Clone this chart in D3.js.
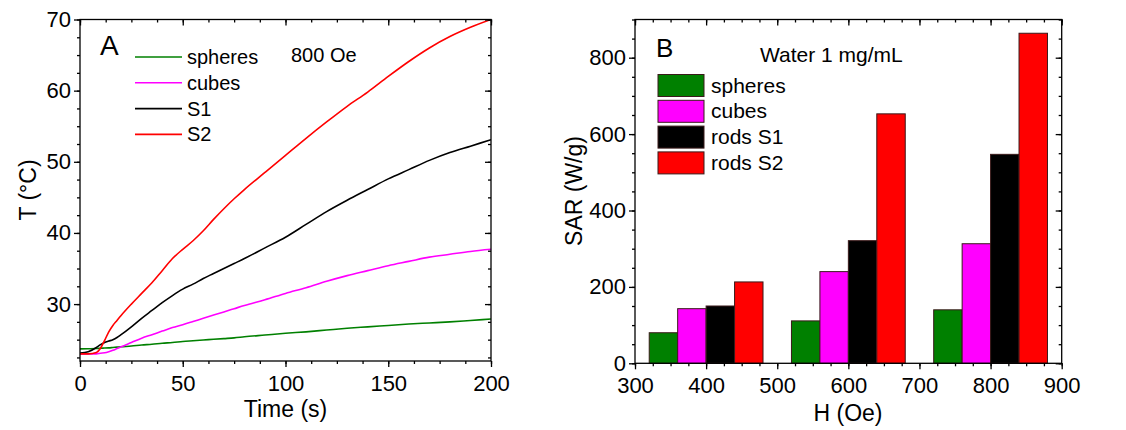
<!DOCTYPE html>
<html>
<head>
<meta charset="utf-8">
<script src="https://cdn.jsdelivr.net/npm/d3@7"></script>
<style>
  html, body { margin: 0; padding: 0; background: #fff; }
  svg { display: block; font-family: "Liberation Sans", Arial, sans-serif; }
</style>
</head>
<body>
<svg id="chart" width="1126" height="430"></svg>
<script>
// heating curves at 800 Oe (panel A)
const timeS = [0, 4, 8, 10, 12, 14, 16, 18, 20, 25, 30, 35, 40, 45, 50, 55, 60, 65, 70, 75, 80,
               90, 100, 110, 120, 130, 140, 150, 160, 170, 180, 190, 200];
const tempSpheres = [23.7, 23.72, 23.75, 23.8, 23.82, 23.85, 23.9, 23.95, 24.0, 24.1, 24.25, 24.35, 24.5,
                     24.6, 24.75, 24.85, 24.95, 25.05, 25.15, 25.25, 25.4, 25.65, 25.9, 26.1, 26.35, 26.6,
                     26.8, 27.0, 27.2, 27.35, 27.5, 27.7, 27.9];
const tempCubes = [23.0, 23.0, 23.0, 23.1, 23.15, 23.3, 23.5, 23.75, 24.0, 24.6, 25.2, 25.7, 26.2, 26.7,
                   27.1, 27.55, 28.0, 28.45, 28.9, 29.35, 29.8, 30.6, 31.5, 32.3, 33.2, 34.0, 34.7, 35.4,
                   36.0, 36.6, 37.0, 37.4, 37.7];
const tempS1 = [23.1, 23.3, 23.9, 24.3, 24.6, 24.8, 25.0, 25.3, 25.7, 26.8, 28.0, 29.1, 30.2, 31.2, 32.1,
                32.8, 33.6, 34.3, 35.0, 35.7, 36.4, 37.9, 39.4, 41.2, 43.0, 44.6, 46.1, 47.6, 48.9, 50.2,
                51.3, 52.2, 53.1];
const tempS2 = [23.0, 23.0, 23.2, 23.8, 24.9, 26.1, 27.0, 27.7, 28.4, 30.0, 31.5, 33.0, 34.7, 36.4, 37.7,
                38.9, 40.3, 41.9, 43.4, 44.8, 46.1, 48.5, 50.9, 53.3, 55.6, 57.8, 59.8, 62.0, 64.1, 66.0,
                67.6, 68.9, 70.0];

// SAR vs field (panel B)
const fieldOe = [400, 600, 800];
const sampleNames = ['spheres', 'cubes', 'rods S1', 'rods S2'];
const sarSpheres = [80, 111, 140];
const sarCubes = [143, 240, 313];
const sarS1 = [150, 321, 547];
const sarS2 = [213, 653, 864];

const colors = ['#008000', '#ff00ff', '#000000', '#ff0000'];
const curveNames = ['spheres', 'cubes', 'S1', 'S2'];

const svg = d3.select('#chart');
svg.append('rect').attr('width', 1126).attr('height', 430).attr('fill', '#fff');

// draws a boxed frame with outward ticks on left/bottom and inward mirrored ticks on top/right
function drawFrame(x, y, xMajor, xMinor, yMajor, yMinor) {
    const [x0, x1] = x.range();
    const [y0, y1] = y.range();
    const g = svg.append('g');

    const addAxis = (axis, transform, labels) => {
        const a = g.append('g').attr('transform', transform).call(axis);
        a.select('.domain').remove();
        a.selectAll('line').attr('stroke', '#000').attr('stroke-width', 1.3);
        if (!labels) a.selectAll('text').remove();
        else a.selectAll('text').attr('font-size', 22).attr('fill', '#000')
            .attr('font-family', '"Liberation Sans", Arial, sans-serif');
        return a;
    };

    // minor ticks
    addAxis(d3.axisBottom(x).tickValues(xMinor).tickSize(3), `translate(0,${y0})`, false);
    addAxis(d3.axisBottom(x).tickValues(xMinor).tickSize(3), `translate(0,${y1})`, false);
    addAxis(d3.axisLeft(y).tickValues(yMinor).tickSize(3), `translate(${x0},0)`, false);
    addAxis(d3.axisLeft(y).tickValues(yMinor).tickSize(3), `translate(${x1},0)`, false);
    // major ticks
    const bx = addAxis(d3.axisBottom(x).tickValues(xMajor).tickSize(6).tickPadding(5), `translate(0,${y0})`, true);
    bx.selectAll('text').attr('dy', '0.85em');
    addAxis(d3.axisBottom(x).tickValues(xMajor).tickSize(6), `translate(0,${y1})`, false);
    addAxis(d3.axisLeft(y).tickValues(yMajor).tickSize(6).tickPadding(3), `translate(${x0},0)`, true);
    addAxis(d3.axisLeft(y).tickValues(yMajor).tickSize(6), `translate(${x1},0)`, false);

    g.append('rect')
        .attr('x', x0).attr('y', y1)
        .attr('width', x1 - x0).attr('height', y0 - y1)
        .attr('fill', 'none').attr('stroke', '#000').attr('stroke-width', 1.3);
    return g;
}

const range = (a, b, s) => d3.range(a, b + s / 2, s);

// ---------- Panel A: temperature vs time ----------
const xA = d3.scaleLinear().domain([0, 200]).range([80, 491]);
const yA = d3.scaleLinear().domain([22, 70]).range([361, 19.5]);

svg.append('clipPath').attr('id', 'clipA').append('rect')
    .attr('x', 80).attr('y', 19.5).attr('width', 411).attr('height', 341.5);

const line = d3.line().curve(d3.curveMonotoneX).x(d => xA(d[0])).y(d => yA(d[1]));
const series = [tempSpheres, tempCubes, tempS1, tempS2];
series.forEach((temps, i) => {
    svg.append('path')
        .datum(timeS.map((t, k) => [t, temps[k]]))
        .attr('clip-path', 'url(#clipA)')
        .attr('d', line)
        .attr('fill', 'none')
        .attr('stroke', colors[i])
        .attr('stroke-width', 1.6)
        .attr('stroke-linejoin', 'round');
});

drawFrame(xA, yA, [0, 50, 100, 150, 200], range(0, 200, 12.5), [30, 40, 50, 60, 70], range(22.5, 70, 2.5));

svg.append('text').attr('x', 100).attr('y', 55).attr('font-size', 28).text('A');
svg.append('text').attr('x', 291).attr('y', 62).attr('font-size', 20).text('800 Oe');

const legA = svg.append('g');
curveNames.forEach((name, i) => {
    const yy = 57 + i * 25.8;
    legA.append('line').attr('x1', 135).attr('x2', 182).attr('y1', yy).attr('y2', yy)
        .attr('stroke', colors[i]).attr('stroke-width', 1.6);
    legA.append('text').attr('x', 187).attr('y', yy + 7).attr('font-size', 20).text(name);
});

svg.append('text').attr('x', 285.5).attr('y', 417).attr('text-anchor', 'middle')
    .attr('font-size', 23).text('Time (s)');
svg.append('text').attr('transform', 'translate(36,190) rotate(-90)').attr('text-anchor', 'middle')
    .attr('font-size', 23).text('T (°C)');

// ---------- Panel B: SAR vs field ----------
const xB = d3.scaleLinear().domain([300, 900]).range([635, 1061.7]);
const yB = d3.scaleLinear().domain([0, 900]).range([363.3, 19.5]);
const inner = d3.scaleBand().domain(sampleNames).range([-80, 80]);
const sar = [sarSpheres, sarCubes, sarS1, sarS2];

fieldOe.forEach((h, gi) => {
    sampleNames.forEach((name, si) => {
        const left = xB(h + inner(name));
        const right = xB(h + inner(name) + inner.bandwidth());
        svg.append('rect')
            .attr('x', left).attr('y', yB(sar[si][gi]))
            .attr('width', right - left).attr('height', yB(0) - yB(sar[si][gi]))
            .attr('fill', colors[si])
            .attr('stroke', '#3a1a1a').attr('stroke-width', 1);
    });
});

drawFrame(xB, yB, [300, 400, 500, 600, 700, 800, 900], range(300, 900, 25), [0, 200, 400, 600, 800], range(0, 900, 50));

svg.append('text').attr('x', 656).attr('y', 57).attr('font-size', 26).text('B');
svg.append('text').attr('x', 760).attr('y', 62).attr('font-size', 21).text('Water 1 mg/mL');

const legB = svg.append('g');
sampleNames.forEach((name, i) => {
    const yy = 74.5 + i * 25.8;
    legB.append('rect').attr('x', 658).attr('y', yy).attr('width', 46).attr('height', 22)
        .attr('fill', colors[i]).attr('stroke', '#3a1a1a').attr('stroke-width', 1);
    legB.append('text').attr('x', 711).attr('y', yy + 18).attr('font-size', 21).text(name);
});

svg.append('text').attr('x', 848).attr('y', 421).attr('text-anchor', 'middle')
    .attr('font-size', 23).text('H (Oe)');
svg.append('text').attr('transform', 'translate(582,191) rotate(-90)').attr('text-anchor', 'middle')
    .attr('font-size', 23).text('SAR (W/g)');
</script>
</body>
</html>
